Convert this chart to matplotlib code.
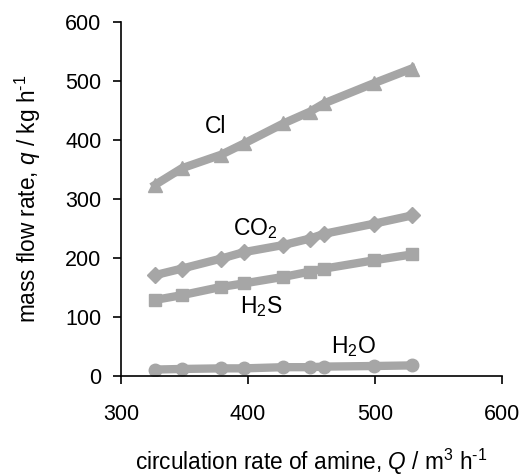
import numpy as np
import matplotlib
matplotlib.use('Agg')
import matplotlib.pyplot as plt

plt.rcParams['font.family'] = 'Liberation Sans'
plt.rcParams['mathtext.fontset'] = 'custom'
plt.rcParams['mathtext.rm'] = 'Liberation Sans'
plt.rcParams['mathtext.it'] = 'Liberation Sans:italic'

# circulation rate of amine (m3/h)
Q = [327, 348, 379, 397, 428, 449, 460, 499, 529]
# mass flow rates (kg/h)
q_cl = [324, 352, 375, 394, 428, 448, 462, 496, 521]
q_co2 = [171, 182, 199, 210, 222, 233, 241, 258, 272]
q_h2s = [129, 137, 151, 157, 168, 177, 182, 196, 206]
q_h2o = [11, 12, 13, 13, 15, 15, 16, 17, 18]

grey = '#a6a6a6'

fig = plt.figure(figsize=(5.23, 4.76), dpi=100)
ax = fig.add_axes([0.231, 0.210, 0.729, 0.744])

ax.plot(Q, q_cl, color=grey, lw=6, marker='^', ms=10, mec=grey)
ax.plot(Q, q_co2, color=grey, lw=6, marker='D', ms=8, mec=grey)
ax.plot(Q, q_h2s, color=grey, lw=6, marker='s', ms=9, mec=grey)
ax.plot(Q, q_h2o, color=grey, lw=6, marker='o', ms=9, mec=grey)

ax.text(366, 411, 'Cl', fontsize=16.5, ha='left', va='baseline')
ax.text(388, 239, 'CO$_2$', fontsize=16.5, ha='left', va='baseline')
ax.text(394, 107, 'H$_2$S', fontsize=16.5, ha='left', va='baseline')
ax.text(465, 39, 'H$_2$O', fontsize=16.5, ha='left', va='baseline')

ax.set_xlim(300, 600)
ax.set_ylim(0, 600)
ax.set_xticks([300, 400, 500, 600])
ax.set_yticks([0, 100, 200, 300, 400, 500, 600])

for s in ['top', 'right']:
    ax.spines[s].set_visible(False)
for s in ['left', 'bottom']:
    ax.spines[s].set_linewidth(1.2)

ax.tick_params(axis='x', direction='out', length=6, width=1.2, pad=14, labelsize=15.5)
ax.tick_params(axis='y', direction='out', length=6, width=1.2, pad=8, labelsize=15.5)

ax.set_xlabel('circulation rate of amine, $Q$ / m$^3$ h$^{\\text{-1}}$', fontsize=16.3)
ax.set_ylabel('mass flow rate, $q$ / kg h$^{\\text{-1}}$', fontsize=16.3)
ax.xaxis.set_label_coords(0.5, -0.2)
ax.yaxis.set_label_coords(-0.205, 0.5)

fig.savefig('out.png', dpi=100)
